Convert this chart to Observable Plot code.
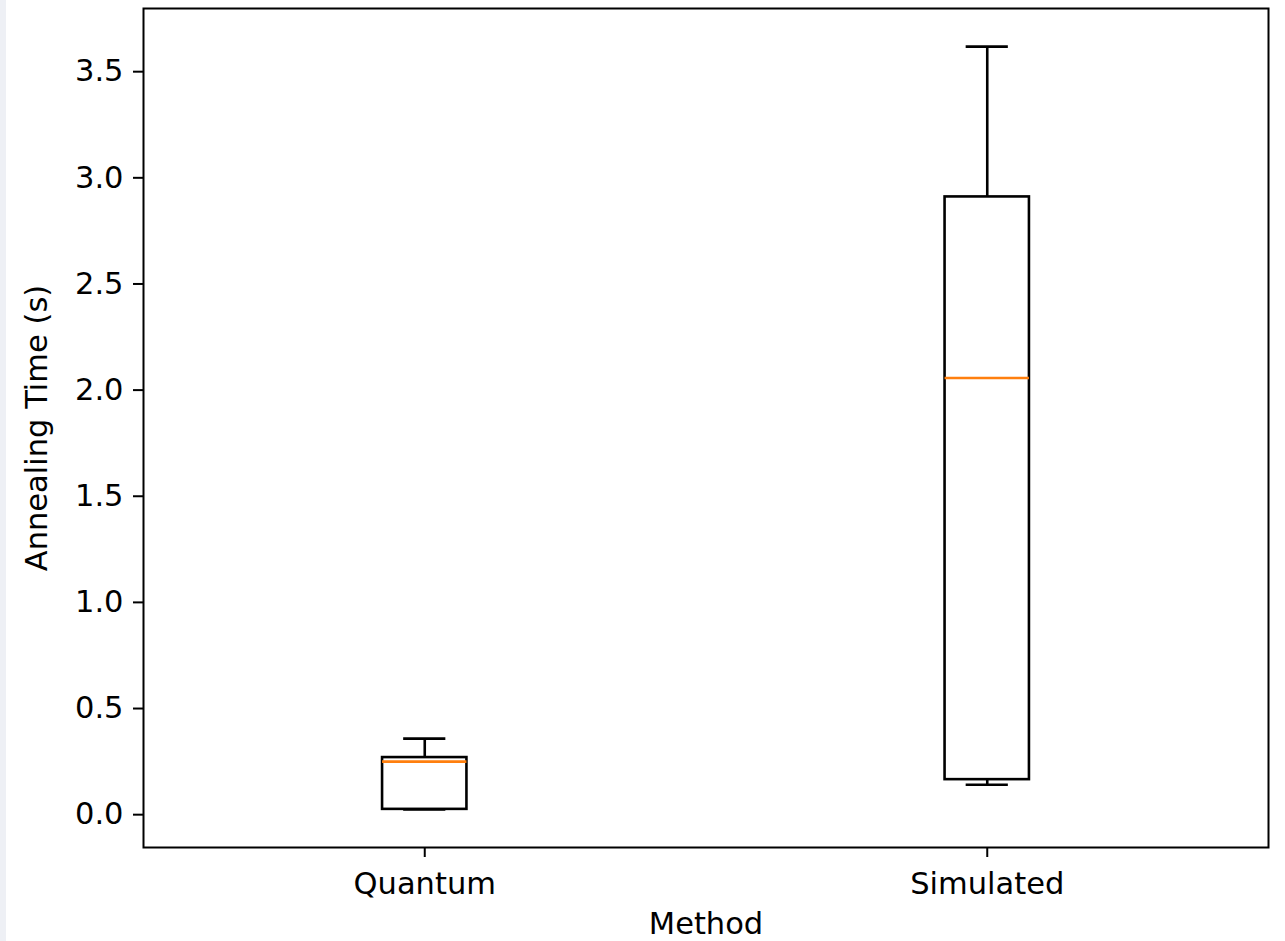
<!DOCTYPE html>
<html>
<head>
<meta charset="utf-8">
<script src="https://cdn.jsdelivr.net/npm/d3@7"></script>
<script src="https://cdn.jsdelivr.net/npm/@observablehq/plot@0.6"></script>
<style>
  html, body { margin: 0; padding: 0; }
  body { background: linear-gradient(to right, #eef0f5 0 6px, #ffffff 6px); width: 1285px; height: 941px; overflow: hidden; }
  #chart svg { display: block; }
</style>
</head>
<body>
<div id="chart"></div>
<script>
// Box-plot summary of annealing times per method (seconds)
const methods   = ["Quantum", "Simulated"];
const positions = [1, 2];
const whiskerLo = [0.025, 0.141];
const q1        = [0.025, 0.165];
const median    = [0.25, 2.057];
const q3        = [0.269, 2.91];
const whiskerHi = [0.358, 3.618];
const yTicks    = [0, 0.5, 1, 1.5, 2, 2.5, 3, 3.5];

const xLabel = "Method";
const yLabel = "Annealing Time (s)";

const boxes = methods.map((m, i) => ({
  method: m, pos: positions[i],
  lo: whiskerLo[i], q1: q1[i], med: median[i], q3: q3[i], hi: whiskerHi[i]
}));

const halfBox = 0.075;
const halfCap = 0.0375;

// y limits padded by 5% of the data range
const yMin = d3.min(whiskerLo), yMax = d3.max(whiskerHi);
const pad = 0.05 * (yMax - yMin);

const fontSize = 30.5;

const chart = Plot.plot({
  width: 1285,
  height: 941,
  marginLeft: 143,
  marginRight: 17,
  marginTop: 8,
  marginBottom: 94,
  style: { background: "transparent", fontFamily: "DejaVu Sans", fontSize: fontSize + "px", color: "#000" },
  x: { type: "linear", domain: [0.5, 2.5] },
  y: { domain: [yMin - pad, yMax + pad] },
  marks: [
    // whiskers
    Plot.ruleX(boxes, { x: "pos", y1: "q3", y2: "hi", stroke: "black", strokeWidth: 2.6 }),
    Plot.ruleX(boxes, { x: "pos", y1: "lo", y2: "q1", stroke: "black", strokeWidth: 2.6 }),
    // caps
    Plot.ruleY(boxes, { y: "hi", x1: d => d.pos - halfCap, x2: d => d.pos + halfCap, stroke: "black", strokeWidth: 2.6 }),
    Plot.ruleY(boxes, { y: "lo", x1: d => d.pos - halfCap, x2: d => d.pos + halfCap, stroke: "black", strokeWidth: 2.6 }),
    // boxes
    Plot.rect(boxes, { x1: d => d.pos - halfBox, x2: d => d.pos + halfBox, y1: "q1", y2: "q3", fill: "none", stroke: "black", strokeWidth: 2.6 }),
    // medians
    Plot.ruleY(boxes, { y: "med", x1: d => d.pos - halfBox, x2: d => d.pos + halfBox, stroke: "#ff7f0e", strokeWidth: 2.6 }),
    // axes
    Plot.axisY({ ticks: yTicks, tickFormat: d3.format(".1f"), tickSize: 10, tickPadding: 10, strokeWidth: 2, label: null, fontSize }),
    Plot.axisX({ ticks: positions, tickFormat: (d) => methods[positions.indexOf(d)], tickSize: 10, tickPadding: 15, strokeWidth: 2, label: null, fontSize }),
    Plot.text([yLabel], { frameAnchor: "left", textAnchor: "middle", rotate: -90, dx: -106, fontSize, fill: "black" }),
    Plot.text([xLabel], { frameAnchor: "bottom", textAnchor: "middle", dy: 86, fontSize, fill: "black" }),
    Plot.frame({ stroke: "black", strokeWidth: 2 })
  ]
});

document.getElementById("chart").appendChild(chart);
</script>
</body>
</html>
